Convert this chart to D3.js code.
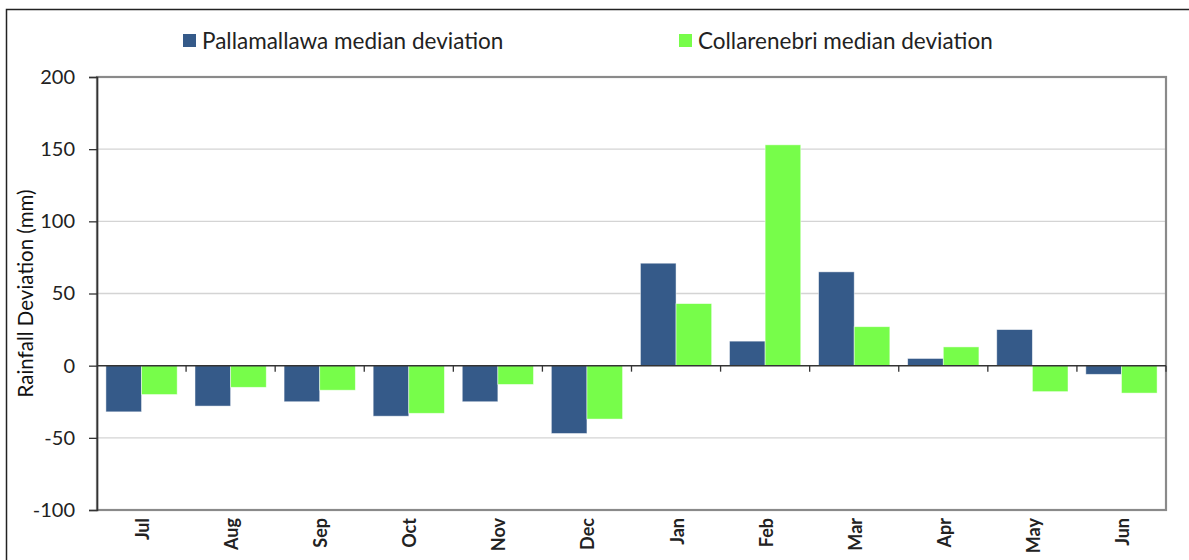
<!DOCTYPE html>
<html>
<head>
<meta charset="utf-8">
<script src="https://cdn.jsdelivr.net/npm/d3@7"></script>
<style>
  body { margin: 0; background: #fff; }
  svg { display: block; font-family: Lato, "Open Sans", sans-serif; }
</style>
</head>
<body>
<div id="viz"></div>
<script>
// data
var months = ["Jul", "Aug", "Sep", "Oct", "Nov", "Dec", "Jan", "Feb", "Mar", "Apr", "May", "Jun"];
var pallamallawa = [-32, -28, -25, -35, -25, -47, 71, 17, 65, 5, 25, -6];
var collarenebri = [-20, -15, -17, -33, -13, -37, 43, 153, 27, 13, -18, -19];
var seriesNames = ["Pallamallawa median deviation", "Collarenebri median deviation"];
var yTicks = [-100, -50, 0, 50, 100, 150, 200];

var colors = ["#355a89", "#77fd4a"];

var W = 1189, H = 560;
var margin = {top: 77, right: 23, bottom: 50, left: 97},
    width = 1166 - margin.left,
    height = 510 - margin.top;

var svg = d3.select("#viz").append("svg")
    .attr("width", W)
    .attr("height", H);

// outer chart border
svg.append("rect")
    .attr("x", 6.5).attr("y", 9.5)
    .attr("width", W).attr("height", H)
    .attr("fill", "none")
    .attr("stroke", "#222")
    .attr("stroke-width", 1.5);

var chart = svg.append("g")
    .attr("transform", "translate(" + margin.left + "," + margin.top + ")");

var x0 = d3.scaleBand()
    .domain(months)
    .range([0, width])
    .paddingInner(0.2)
    .paddingOuter(0.1);

var x1 = d3.scaleBand()
    .domain([0, 1])
    .range([0, x0.bandwidth()]);

var y = d3.scaleLinear()
    .domain([-100, 200])
    .range([height, 0]);

// gridlines
chart.append("g")
  .selectAll("line")
  .data(yTicks.filter(function(d) { return d !== 0 && d !== -100 && d !== 200; }))
  .join("line")
    .attr("x1", 0).attr("x2", width)
    .attr("y1", function(d) { return y(d); })
    .attr("y2", function(d) { return y(d); })
    .attr("stroke", "#d4d4d4")
    .attr("stroke-width", 1.3);

// plot frame
chart.append("rect")
    .attr("x", 0).attr("y", 0)
    .attr("width", width).attr("height", height)
    .attr("fill", "none")
    .attr("stroke", "#8a8a8a")
    .attr("stroke-width", 2.2);

// bars
var rows = months.map(function(m, i) {
  return {month: m, values: [pallamallawa[i], collarenebri[i]]};
});

var groups = chart.append("g")
  .selectAll("g")
  .data(rows)
  .join("g")
    .attr("transform", function(d) { return "translate(" + x0(d.month) + ",0)"; });

groups.selectAll("rect")
  .data(function(d) { return d.values.map(function(v, k) { return {k: k, v: v}; }); })
  .join("rect")
    .attr("x", function(d) { return x1(d.k); })
    .attr("width", x1.bandwidth())
    .attr("y", function(d) { return y(Math.max(0, d.v)); })
    .attr("height", function(d) { return Math.abs(y(d.v) - y(0)); })
    .attr("fill", function(d) { return colors[d.k]; })
    .attr("stroke", "rgba(255,255,255,0.6)")
    .attr("stroke-width", 0.8);

// y axis
var yAxis = d3.axisLeft(y)
    .tickValues(yTicks)
    .tickFormat(function(d) { return String(d); })
    .tickSize(8)
    .tickPadding(14);

var yGuide = chart.append("g").call(yAxis);
yGuide.select(".domain").attr("stroke", "#333").attr("stroke-width", 1.6);
yGuide.selectAll(".tick line").attr("stroke", "#333").attr("stroke-width", 1.3);
yGuide.selectAll(".tick text")
    .attr("font-size", 20)
    .attr("fill", "#222")
    .attr("font-family", "Lato, sans-serif");

// zero line with category ticks
var zero = chart.append("g")
    .attr("transform", "translate(0," + y(0) + ")");
zero.append("line")
    .attr("x1", 0).attr("x2", width)
    .attr("stroke", "#333").attr("stroke-width", 1.5);
zero.selectAll(".cat-tick")
  .data(d3.range(1, months.length + 1))
  .join("line")
    .attr("class", "cat-tick")
    .attr("x1", function(i) { return i * width / months.length; })
    .attr("x2", function(i) { return i * width / months.length; })
    .attr("y1", 0).attr("y2", 6)
    .attr("stroke", "#333").attr("stroke-width", 1.3);

// x labels (rotated)
chart.append("g")
  .selectAll("text")
  .data(months)
  .join("text")
    .attr("transform", function(d) {
      return "translate(" + (x0(d) + x0.bandwidth() / 2 + 1) + "," + (height + 8) + ") rotate(-90)";
    })
    .attr("text-anchor", "end")
    .attr("dy", "0.36em")
    .attr("font-size", 18)
    .attr("font-weight", "bold")
    .attr("fill", "#222")
    .text(function(d) { return d; });

// y axis title
svg.append("text")
    .attr("transform", "translate(26," + (margin.top + height / 2) + ") rotate(-90)")
    .attr("text-anchor", "middle")
    .attr("dy", "0.35em")
    .attr("font-size", 20.5)
    .attr("fill", "#111")
    .text("Rainfall Deviation (mm)");

// legend
var legendX = [183, 679];
var legend = svg.append("g")
  .selectAll("g")
  .data(seriesNames)
  .join("g")
    .attr("transform", function(d, i) { return "translate(" + legendX[i] + ",34)"; });

legend.append("rect")
    .attr("width", 13).attr("height", 13)
    .attr("fill", function(d, i) { return colors[i]; });

legend.append("text")
    .attr("x", 19)
    .attr("y", 7)
    .attr("dy", "0.35em")
    .attr("font-size", 22.5)
    .attr("fill", "#222")
    .text(function(d) { return d; });
</script>
</body>
</html>
